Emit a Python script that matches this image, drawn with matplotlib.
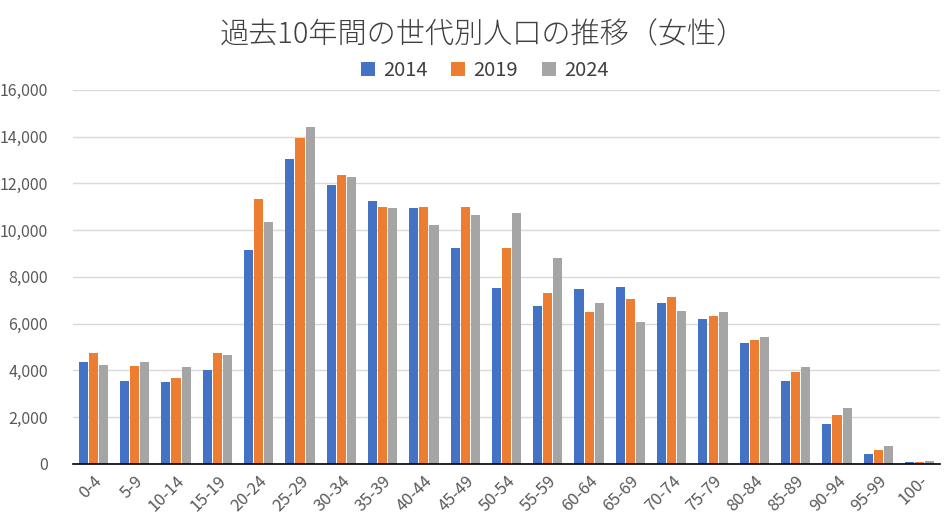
import matplotlib
matplotlib.use("Agg")
import matplotlib.pyplot as plt
import numpy as np
from matplotlib.ticker import FuncFormatter

plt.rcParams['font.family'] = ['Noto Sans CJK JP', 'DejaVu Sans']

categories = ["0-4", "5-9", "10-14", "15-19", "20-24", "25-29", "30-34", "35-39",
              "40-44", "45-49", "50-54", "55-59", "60-64", "65-69", "70-74", "75-79",
              "80-84", "85-89", "90-94", "95-99", "100-"]
series_names = ["2014", "2019", "2024"]
v2014 = [4360, 3550, 3510, 4020, 9150, 13050, 11940, 11250, 10950, 9240, 7530, 6760,
         7490, 7570, 6890, 6200, 5180, 3550, 1710, 430, 90]
v2019 = [4750, 4190, 3680, 4750, 11340, 13960, 12360, 10990, 10990, 10990, 9240, 7320,
         6500, 7060, 7140, 6330, 5300, 3950, 2100, 600, 90]
v2024 = [4240, 4360, 4150, 4660, 10350, 14420, 12280, 10950, 10220, 10650, 10740, 8810,
         6890, 6080, 6550, 6500, 5430, 4150, 2400, 770, 130]
colors = ["#4472C4", "#ED7D31", "#A5A5A5"]
yticks = [0, 2000, 4000, 6000, 8000, 10000, 12000, 14000, 16000]

fig = plt.figure(figsize=(9.45, 5.32), dpi=100)
ax = fig.add_axes([0.077, 0.128, 0.918, 0.703])

x = np.arange(len(categories))
w = 0.22
step = 0.245
for i, (vals, name, c) in enumerate(zip([v2014, v2019, v2024], series_names, colors)):
    ax.bar(x + (i - 1) * step, vals, width=w, color=c, label=name, zorder=3)

ax.set_xlim(-0.5, len(categories) - 0.5)
ax.set_ylim(0, 16000)
ax.set_yticks(yticks)
ax.yaxis.set_major_formatter(FuncFormatter(lambda v, p: f"{int(v):,}"))
ax.grid(axis='y', color='#D9D9D9', linewidth=1, zorder=0)
for s in ['top', 'right', 'left']:
    ax.spines[s].set_visible(False)
ax.spines['bottom'].set_color('#000000')
ax.spines['bottom'].set_linewidth(1.2)
ax.spines['bottom'].set_zorder(4)
ax.tick_params(axis='y', length=0, pad=18, labelsize=11.5, labelcolor='#595959')
ax.tick_params(axis='x', length=0, pad=6, labelsize=12, labelcolor='#595959')
ax.set_xticks(x)
ax.set_xticklabels(categories, rotation=45, ha='right', va='top', rotation_mode='anchor')

fig.text(0.511, 0.935, "過去10年間の世代別人口の推移（女性）", ha='center', va='center',
         fontsize=21, color='#404040', fontweight='light')
fig.legend(loc='center', bbox_to_anchor=(0.513, 0.868), ncol=3, frameon=False,
           fontsize=14.5, handlelength=0.7, handleheight=0.7, columnspacing=1.2,
           handletextpad=0.4, labelcolor='#404040')

fig.savefig("out.png", dpi=100)
